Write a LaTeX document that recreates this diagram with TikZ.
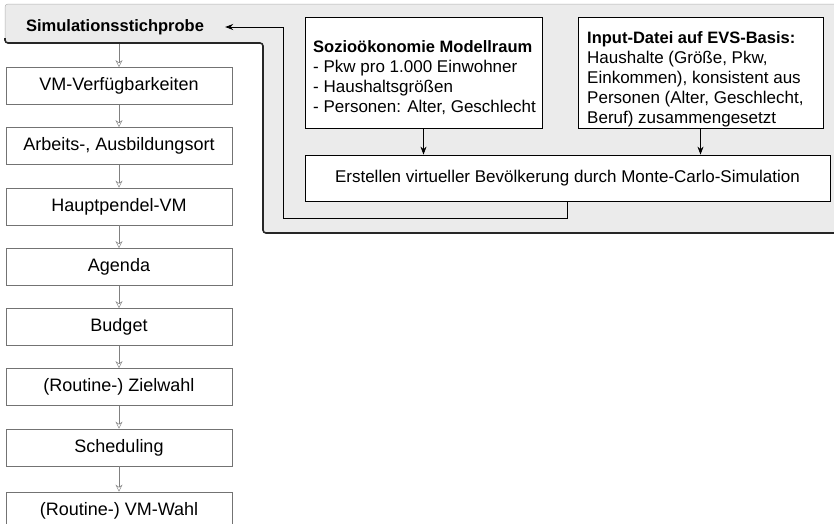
\documentclass[tikz,border=0pt]{standalone}
\usepackage{fontspec}
\setmainfont{Liberation Sans}
\usetikzlibrary{arrows.meta}
\newcommand\headfont{\fontsize{16.5}{20}\selectfont\bfseries}
\begin{document}
\begin{tikzpicture}[x=1pt,y=-1pt,
  txt/.style={font=\fontsize{17}{20}\selectfont},
  boldtxt/.style={font=\headfont},
  stepbox/.style={font=\fontsize{18}{21}\selectfont, draw=black!55, line width=0.7pt,
    minimum width=226pt, minimum height=37pt, inner sep=0pt},
  infobox/.style={draw=black, line width=0.8pt, fill=white, inner sep=0pt},
  flowarrow/.style={black!50, line width=0.5pt, -{Stealth[open,length=7pt,width=7pt]}},
  mainarrow/.style={black, line width=0.8pt, -{Stealth[length=8pt,width=6pt]}},
  shadowline/.style={black!85, line width=1.6pt},
  regionfill/.style={fill=black!8, draw=gray!60, line width=0.5pt}
]
\useasboundingbox (0,0) rectangle (834,523);
\clip (0,0) rectangle (834,523);

% shaded model-space region with its shadow edge
\path[regionfill, rounded corners=3pt]
  (5,43) -- (5,4) -- (840,4) -- (840,233) -- (263,233) -- (263,43) -- cycle;
\draw[shadowline, rounded corners=3pt] (5,38) -- (5,43) -- (263,43) -- (263,233) -- (840,233);

% sample node inside the region
\node[boldtxt, minimum width=220pt, inner sep=0pt] (sim) at (115,27) {Simulationsstichprobe};

% input boxes
\node[infobox, minimum width=237pt, minimum height=111pt] (sozio) at (423.5,72.5) {};
\node[txt, align=left, anchor=west, inner sep=0pt] (soziotext) at (313,78)
  {{\headfont Sozioökonomie Modellraum}\\- Pkw pro 1.000 Einwohner\\- Haushaltsgrößen\\- Personen: Alter, Geschlecht};
\node[infobox, minimum width=245pt, minimum height=111pt] (input) at (700.5,72.5) {};
\node[txt, align=left, anchor=west, inner sep=0pt] (inputtext) at (587,79.5)
  {{\headfont Input-Datei auf EVS-Basis:}\\Haushalte (Größe, Pkw,\\Einkommen), konsistent aus\\Personen (Alter, Geschlecht,\\Beruf) zusammengesetzt};
\node[infobox, txt, minimum width=525pt, minimum height=46pt] (erst) at (567.5,178)
  {Erstellen virtueller Bevölkerung durch Monte-Carlo-Simulation};

\draw[mainarrow] (sozio.south) -- (sozio.south |- erst.north);
\draw[mainarrow] (input.south) -- (input.south |- erst.north);

% feedback to the sample
\coordinate (fb) at (283,218);
\draw[mainarrow] (erst.south) |- (fb) |- (sim.east);

% simulation steps
\node[stepbox] (s1) at (119,86) {VM-Verfügbarkeiten};
\node[stepbox] (s2) at (119,146) {Arbeits-, Ausbildungsort};
\node[stepbox] (s3) at (119,206.5) {Hauptpendel-VM};
\node[stepbox] (s4) at (119,267) {Agenda};
\node[stepbox] (s5) at (119,327) {Budget};
\node[stepbox] (s6) at (119,387) {(Routine-) Zielwahl};
\node[stepbox] (s7) at (119,447.5) {Scheduling};
\node[stepbox] (s8) at (119,510.5) {(Routine-) VM-Wahl};

\coordinate (top) at (119,44);
\draw[flowarrow] (top) -- (s1.north);
\draw[flowarrow] (s1) -- (s2);
\draw[flowarrow] (s2) -- (s3);
\draw[flowarrow] (s3) -- (s4);
\draw[flowarrow] (s4) -- (s5);
\draw[flowarrow] (s5) -- (s6);
\draw[flowarrow] (s6) -- (s7);
\draw[flowarrow] (s7) -- (s8);
\end{tikzpicture}
\end{document}
